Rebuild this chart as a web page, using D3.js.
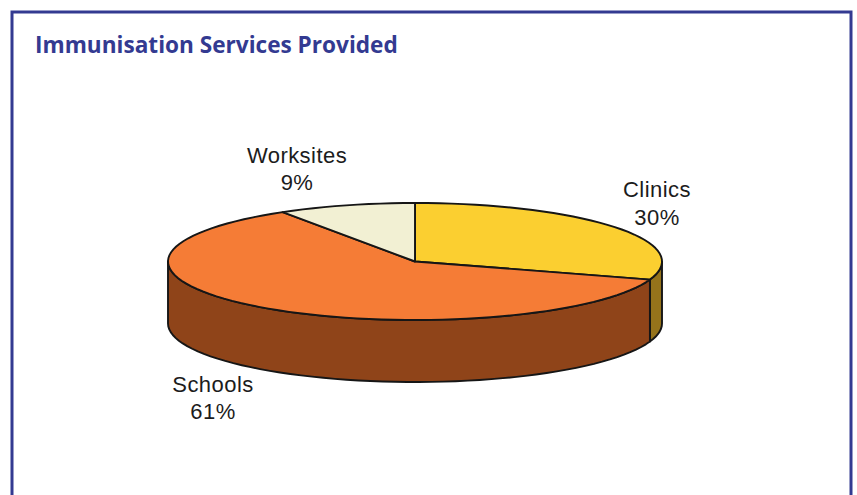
<!DOCTYPE html>
<html>
<head>
<meta charset="utf-8">
<title>Immunisation Services Provided</title>
<script src="https://cdn.jsdelivr.net/npm/d3@7"></script>
<style>
  html, body { margin: 0; padding: 0; background: #fff; }
  svg { display: block; }
  .label { font-family: "Liberation Sans", Arial, sans-serif; font-size: 22px; letter-spacing: 0.45px; fill: #1c1c1c; text-anchor: middle; }
  .title { font-family: "Open Sans", "Noto Sans", sans-serif; font-weight: 700; font-size: 22.6px; fill: #333a91; }
</style>
</head>
<body>
<svg id="chart" width="857" height="495"></svg>
<script>
// Chart content
const categories = ["Clinics", "Schools", "Worksites"];
const shares = [30, 61, 9];
const topColours = ["#fbcf30", "#f57c36", "#f2f0d3"];
const wallColours = ["#95731b", "#8f4419", "#8f8d6a"];

// Layout of the tilted disc and its captions
const cx = 415, cy = 261.5, rx = 247, ry = 58.5, depth = 62;
const captionCentres = [[657, 197], [213, 391.5], [297, 162.5]];
const lineGap = 27.5;

const svg = d3.select("#chart");

// Frame and heading
svg.append("rect")
  .attr("x", 12).attr("y", 12)
  .attr("width", 839).attr("height", 520)
  .attr("fill", "#fff")
  .attr("stroke", "#333a91").attr("stroke-width", 3);

svg.append("text").attr("class", "title")
  .attr("x", 35).attr("y", 53)
  .text("Immunisation Services Provided");

// Slices run clockwise from twelve o'clock
const slices = d3.pie().sort(null).value(d => d)(shares);

const project = (angle, drop = 0) => [
  cx + rx * Math.sin(angle),
  cy - ry * Math.cos(angle) + drop
];

// The rim is a chain of short facets rather than a true ellipse
const rimAngles = (a0, a1) => {
  const n = Math.max(2, Math.ceil(Math.abs(a1 - a0) / 0.05));
  return d3.range(n + 1).map(i => a0 + (a1 - a0) * i / n);
};

const outline = d3.line();
const ink = { stroke: "#161616", width: 1.9 };

// Only the front half of the rim shows a wall (right edge to left edge)
const frontStart = Math.PI / 2, frontEnd = Math.PI * 1.5;
const walls = slices
  .map((s, i) => ({
    i,
    a0: Math.max(s.startAngle, frontStart),
    a1: Math.min(s.endAngle, frontEnd)
  }))
  .filter(w => w.a1 > w.a0);

svg.append("g").selectAll("path")
  .data(walls)
  .join("path")
  .attr("d", w => {
    const angles = rimAngles(w.a0, w.a1);
    const upper = angles.map(a => project(a));
    const lower = angles.slice().reverse().map(a => project(a, depth));
    return outline(upper.concat(lower)) + "Z";
  })
  .attr("fill", w => wallColours[w.i])
  .attr("stroke", ink.stroke)
  .attr("stroke-width", ink.width)
  .attr("stroke-linejoin", "round");

// Top faces of the slices
svg.append("g").selectAll("path")
  .data(slices)
  .join("path")
  .attr("d", s => outline([[cx, cy]].concat(rimAngles(s.startAngle, s.endAngle).map(a => project(a)))) + "Z")
  .attr("fill", (s, i) => topColours[i])
  .attr("stroke", ink.stroke)
  .attr("stroke-width", ink.width)
  .attr("stroke-linejoin", "round");

// Two-line captions: name above its percentage
const captions = svg.append("g").selectAll("text")
  .data(slices)
  .join("text")
  .attr("class", "label")
  .attr("x", (s, i) => captionCentres[i][0])
  .attr("y", (s, i) => captionCentres[i][1]);

captions.append("tspan")
  .attr("x", (s, i) => captionCentres[i][0])
  .text((s, i) => categories[i]);

captions.append("tspan")
  .attr("x", (s, i) => captionCentres[i][0])
  .attr("dy", lineGap)
  .text(s => s.value + "%");
</script>
</body>
</html>
